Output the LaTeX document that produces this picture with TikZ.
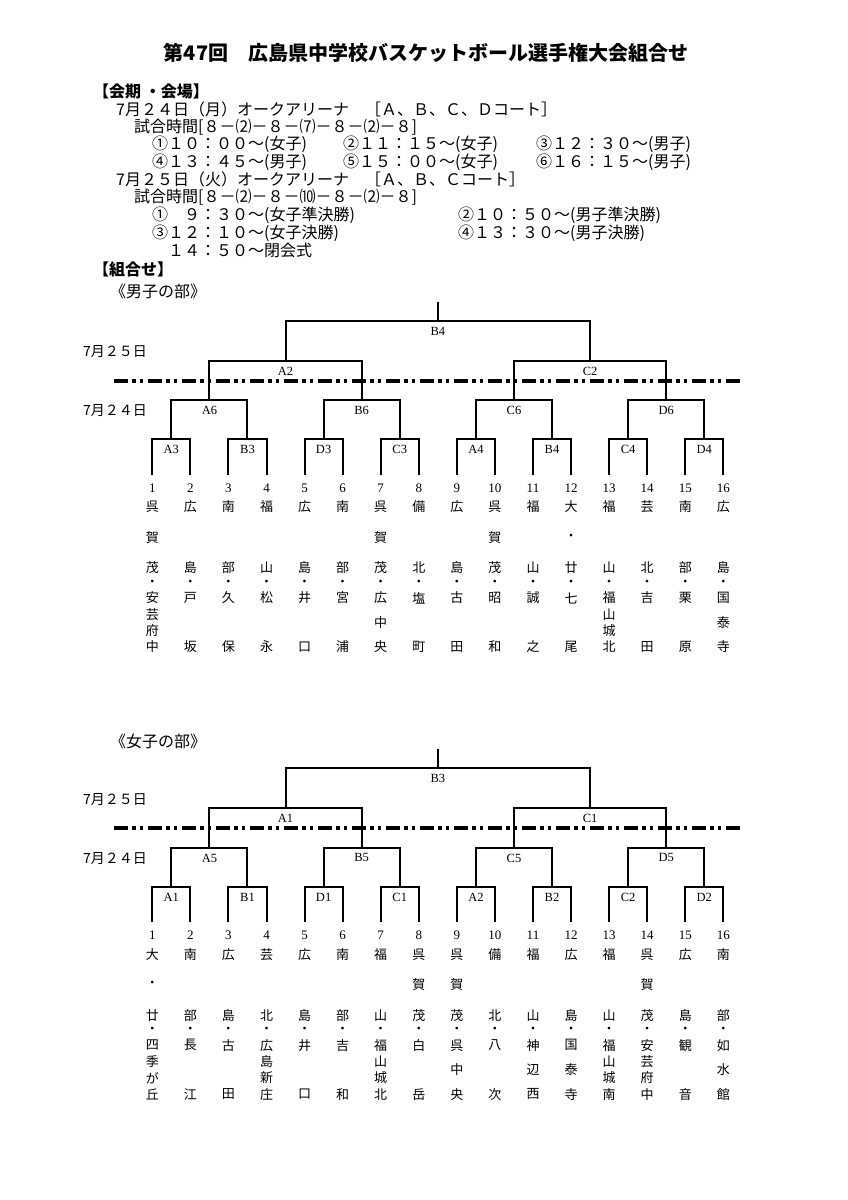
\documentclass[tikz,border=0pt]{standalone}
\usepackage{fontspec}
\setmainfont{Liberation Serif}
\newfontfamily\jp{Noto Sans CJK JP}
\usetikzlibrary{positioning}

\tikzset{
  brk/.style={line width=2pt},
  daydash/.style={line width=3.8pt,dash pattern=on 14pt off 4pt on 3.5pt off 4pt on 3.5pt off 5pt},
  mlabel/.style={font=\fontsize{12.5}{12.5}\selectfont,inner sep=0pt},
  numlabel/.style={font=\fontsize{13}{13}\selectfont,inner sep=0pt,anchor=base},
  namechar/.style={font=\jp\fontsize{13}{13}\selectfont,inner sep=0pt},
  daylabel/.style={font=\jp\fontsize{14}{14}\selectfont,anchor=west,inner sep=0pt},
  hdtext/.style={font=\jp\fontsize{16}{16}\selectfont,anchor=west,inner sep=0pt},
  hdbold/.style={font=\jp\bfseries\fontsize{16}{16}\selectfont,anchor=west,inner sep=0pt}
}

\newcommand\spreadcol[5]{%
  \foreach \c [count=\k] in #5 {\xdef\ncount{\k}}%
  \foreach \c [count=\k] in #5 {
    \pgfmathsetmacro\yy{#3+(\k-1)*(#4-#3)/max(\ncount-1,1)}
    \node[namechar] (#1\k) at (#2,\yy) {\c};
  }}

\newcommand\drawbracket[7]{%
\begin{scope}[shift={(0,#2)}]
\foreach \i in {1,...,16}{
  \pgfmathsetmacro\lx{152.3+38.07*(\i-1)}
  \node[numlabel] (#1n\i) at (\lx,492) {\i};
  \coordinate (#1t\i) at (\lx,475);
}
\foreach \lab [count=\k] in {#6}{
  \pgfmathtruncatemacro\a{2*\k-1}
  \pgfmathtruncatemacro\b{2*\k}
  \pgfmathsetmacro\mx{152.3+38.07*(2*\k-1.5)}
  \coordinate (#1r\k) at (\mx,439.3);
  \draw[brk] (#1t\a) |- (#1r\k) -| (#1t\b);
  \node[mlabel,below=6pt of #1r\k] (#1rl\k) {\lab};
}
\foreach \lab [count=\k] in {#5}{
  \pgfmathtruncatemacro\a{2*\k-1}
  \pgfmathtruncatemacro\b{2*\k}
  \pgfmathsetmacro\mx{152.3+38.07*(4*\k-2.5)}
  \coordinate (#1q\k) at (\mx,400.3);
  \draw[brk] (#1r\a) |- (#1q\k) -| (#1r\b);
  \node[mlabel,below=6pt of #1q\k] (#1ql\k) {\lab};
}
\foreach \lab [count=\k] in {#4}{
  \pgfmathtruncatemacro\a{2*\k-1}
  \pgfmathtruncatemacro\b{2*\k}
  \pgfmathsetmacro\mx{152.3+38.07*(8*\k-4.5)}
  \coordinate (#1s\k) at (\mx,360.7);
  \draw[brk] (#1q\a) |- (#1s\k) -| (#1q\b);
  \node[mlabel,below=6pt of #1s\k] (#1sl\k) {\lab};
}
\coordinate (#1f) at (437.8,321);
\coordinate (#1top) at (437.8,302);
\draw[brk] (#1s1) |- (#1f) -| (#1s2);
\draw[brk] (#1f) -- (#1top);
\node[mlabel,below=6pt of #1f] (#1fl) {#3};
\coordinate (#1dl) at (114,380.7);
\coordinate (#1dr) at (743.3,380.7);
\draw[daydash] (#1dl) -- (#1dr);
\node[daylabel] (#1d25) at (83,352) {7月２５日};
\node[daylabel] (#1d24) at (83,411) {7月２４日};
\foreach \d/\s [count=\i] in {#7}{
  \pgfmathsetmacro\lx{152.3+38.07*(\i-1)}
  \spreadcol{#1d\i-}{\lx}{507}{568}{\d}
  \node[namechar] (#1dot\i) at (\lx,583) {・};
  \spreadcol{#1s\i-}{\lx}{598}{647}{\s}
}
\end{scope}}

\begin{document}
\begin{tikzpicture}[x=1pt,y=-1pt]
\useasboundingbox (0,0) rectangle (848,1200);

\node[font=\jp\bfseries\fontsize{20}{20}\selectfont,inner sep=0pt] (title) at (426,53)
  {第47回　広島県中学校バスケットボール選手権大会組合せ};

\node[hdbold] (kaiki) at (93,91) {【会期 ・会場】};
\node[hdtext] (day1) at (116,109) {7月２４日（月）オークアリーナ　［Ａ、Ｂ、Ｃ、Ｄコート］};
\node[hdtext] (time1) at (134,127) {試合時間[８－⑵－８－⑺－８－⑵－８]};
\node[hdtext] (m1) at (152,144) {①１０：００～(女子)};
\node[hdtext] (m2) at (343,144) {②１１：１５～(女子)};
\node[hdtext] (m3) at (536,144) {③１２：３０～(男子)};
\node[hdtext] (m4) at (152,162) {④１３：４５～(男子)};
\node[hdtext] (m5) at (343,162) {⑤１５：００～(女子)};
\node[hdtext] (m6) at (536,162) {⑥１６：１５～(男子)};
\node[hdtext] (day2) at (116,179) {7月２５日（火）オークアリーナ　［Ａ、Ｂ、Ｃコート］};
\node[hdtext] (time2) at (134,197) {試合時間[８－⑵－８－⑽－８－⑵－８]};
\node[hdtext] (n1) at (152,215) {①　９：３０～(女子準決勝)};
\node[hdtext] (n2) at (458,215) {②１０：５０～(男子準決勝)};
\node[hdtext] (n3) at (152,233) {③１２：１０～(女子決勝)};
\node[hdtext] (n4) at (458,233) {④１３：３０～(男子決勝)};
\node[hdtext] (n5) at (152,250) {　１４：５０～閉会式};
\node[hdbold] (kumi) at (93,269) {【組合せ】};
\node[hdtext] (boys) at (110,291) {《男子の部》};
\node[hdtext] (girls) at (110,741) {《女子の部》};

\drawbracket{b}{0}{B4}{A2,C2}{A6,B6,C6,D6}{A3,B3,D3,C3,A4,B4,C4,D4}{
  {呉,賀,茂}/{安,芸,府,中},{広,島}/{戸,坂},{南,部}/{久,保},{福,山}/{松,永},
  {広,島}/{井,口},{南,部}/{宮,浦},{呉,賀,茂}/{広,中,央},{備,北}/{塩,町},
  {広,島}/{古,田},{呉,賀,茂}/{昭,和},{福,山}/{誠,之},{大,・,廿}/{七,尾},
  {福,山}/{福,山,城,北},{芸,北}/{吉,田},{南,部}/{栗,原},{広,島}/{国,泰,寺}}

\drawbracket{g}{447.3}{B3}{A1,C1}{A5,B5,C5,D5}{A1,B1,D1,C1,A2,B2,C2,D2}{
  {大,・,廿}/{四,季,が,丘},{南,部}/{長,江},{広,島}/{古,田},{芸,北}/{広,島,新,庄},
  {広,島}/{井,口},{南,部}/{吉,和},{福,山}/{福,山,城,北},{呉,賀,茂}/{白,岳},
  {呉,賀,茂}/{呉,中,央},{備,北}/{八,次},{福,山}/{神,辺,西},{広,島}/{国,泰,寺},
  {福,山}/{福,山,城,南},{呉,賀,茂}/{安,芸,府,中},{広,島}/{観,音},{南,部}/{如,水,館}}
\end{tikzpicture}
\end{document}
